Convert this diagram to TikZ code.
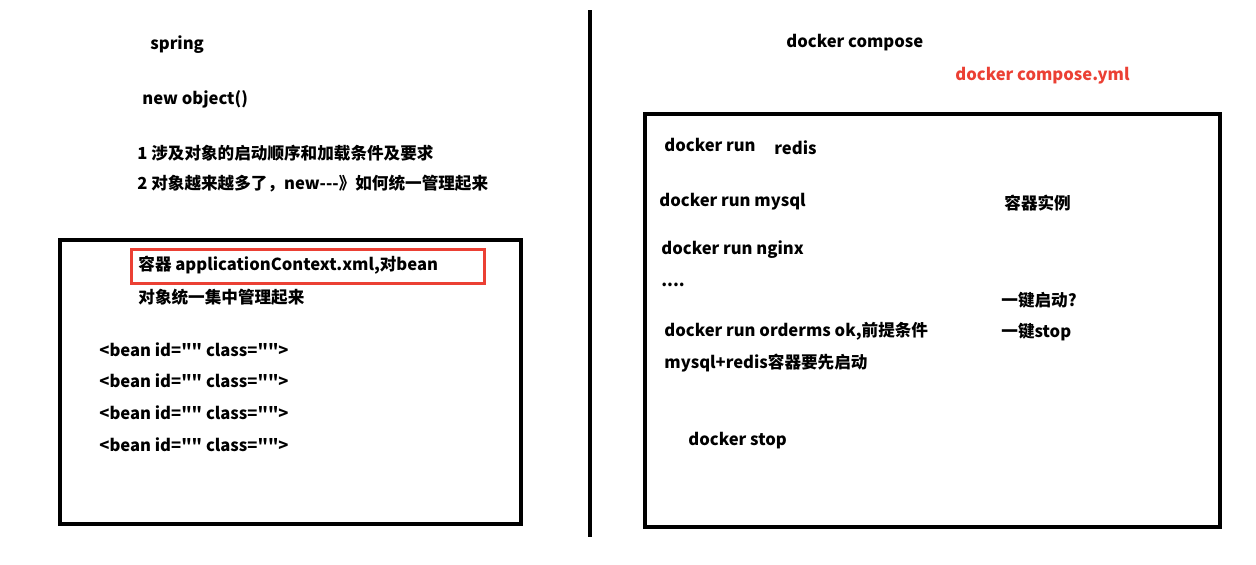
\documentclass[tikz,border=0pt]{standalone}
\usepackage{fontspec}
\newfontfamily\cjk{Noto Sans CJK SC}
\definecolor{boxred}{RGB}{235,64,52}

\begin{document}
\begin{tikzpicture}[x=0.5pt,y=-0.5pt,
  t/.style={anchor=west,inner sep=0pt,font=\cjk\fontsize{8.3}{10}\selectfont\bfseries},
  box/.style={draw,line width=1.6pt},
  redbox/.style={draw=boxred,line width=1.5pt}]
  \useasboundingbox (0,0) rectangle (1256,564);
  % left half: spring
  \node[t] (spr) at (150,45) {spring};
  \node[t] (obj) at (142,99) {new object()};
  \node[t] (p1) at (137,153) {1 涉及对象的启动顺序和加载条件及要求};
  \node[t] (p2) at (137,184) {2 对象越来越多了，new-{}-{}-》如何统一管理起来};
  \draw[box] (60,240) rectangle (521,524);
  \draw[redbox] (131,249) rectangle (484,283);
  \node[t] (ctx) at (138,265) {容器 applicationContext.xml,对bean};
  \node[t] (ctx2) at (138,297) {对象统一集中管理起来};
  \foreach \y in {350,381,413,445}
    \node[t] at (99,\y) {<bean id="" class="">};
  % divider
  \draw[line width=1.6pt] (590,10) -- (590,537);
  % right half: docker compose
  \node[t] (dc) at (786,43) {docker compose};
  \node[t,text=boxred] (yml) at (955,76) {docker compose.yml};
  \draw[box] (645,114) rectangle (1220,527);
  \node[t] (r1) at (664,145) {docker run};
  \node[t] (r1b) at (774,148) {redis};
  \node[t] (r2) at (659,202) {docker run mysql};
  \node[t] (inst) at (1004,203) {容器实例};
  \node[t] (r3) at (661,250) {docker run nginx};
  \node[t] (dots) at (661,285) {....};
  \node[t] (one) at (1001,300) {一键启动?};
  \node[t] (r4) at (664,331) {docker run orderms ok,前提条件};
  \node[t] (stp) at (1001,332) {一键stop};
  \node[t] (r5) at (664,363) {mysql+redis容器要先启动};
  \node[t] (ds) at (688,441) {docker stop};
\end{tikzpicture}
\end{document}
